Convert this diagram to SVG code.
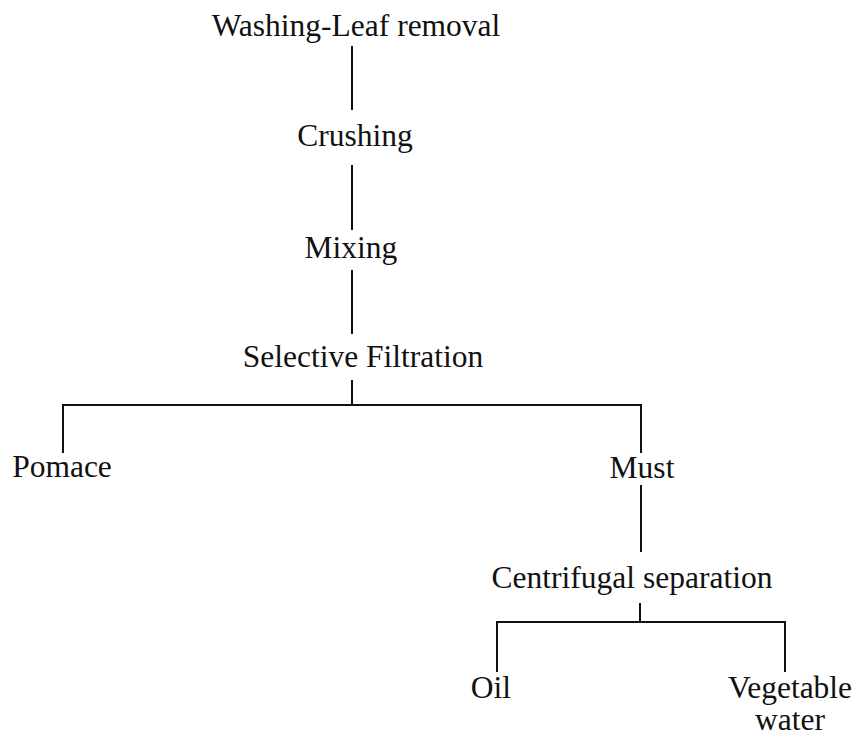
<svg xmlns="http://www.w3.org/2000/svg" width="857" height="736" viewBox="0 0 857 736">
  <style>
    .lbl { font-family: "Liberation Serif", "Times New Roman", serif; font-size: 31.5px; fill: #111; text-anchor: middle; }
    .conn line { stroke: #111; stroke-width: 2; stroke-linecap: butt; }
  </style>
  <rect width="857" height="736" fill="#ffffff"/>

  <!-- connectors -->
  <g id="connectors" class="conn">
    <line x1="352" y1="46" x2="352" y2="110"/>
    <line x1="352" y1="165" x2="352" y2="230"/>
    <line x1="352" y1="270" x2="352" y2="334"/>
    <line x1="352" y1="380" x2="352" y2="405"/>
    <line x1="62" y1="405" x2="642" y2="405"/>
    <line x1="63" y1="404" x2="63" y2="453"/>
    <line x1="641" y1="404" x2="641" y2="453"/>
    <line x1="641" y1="485" x2="641" y2="552"/>
    <line x1="640" y1="603" x2="640" y2="622"/>
    <line x1="496" y1="622" x2="786" y2="622"/>
    <line x1="497" y1="621" x2="497" y2="672"/>
    <line x1="785" y1="621" x2="785" y2="672"/>
  </g>

  <!-- process steps -->
  <g id="washing"><text class="lbl" x="356" y="36">Washing-Leaf removal</text></g>
  <g id="crushing"><text class="lbl" x="355" y="146">Crushing</text></g>
  <g id="mixing"><text class="lbl" x="351" y="258">Mixing</text></g>
  <g id="filtration"><text class="lbl" x="363" y="367">Selective Filtration</text></g>
  <g id="pomace"><text class="lbl" x="62" y="477">Pomace</text></g>
  <g id="must"><text class="lbl" x="642" y="478">Must</text></g>
  <g id="centrifugal"><text class="lbl" x="632" y="588">Centrifugal separation</text></g>
  <g id="oil"><text class="lbl" x="491" y="698">Oil</text></g>
  <g id="vegetable-water">
    <text class="lbl" x="790" y="698">Vegetable</text>
    <text class="lbl" x="790" y="730">water</text>
  </g>
</svg>
